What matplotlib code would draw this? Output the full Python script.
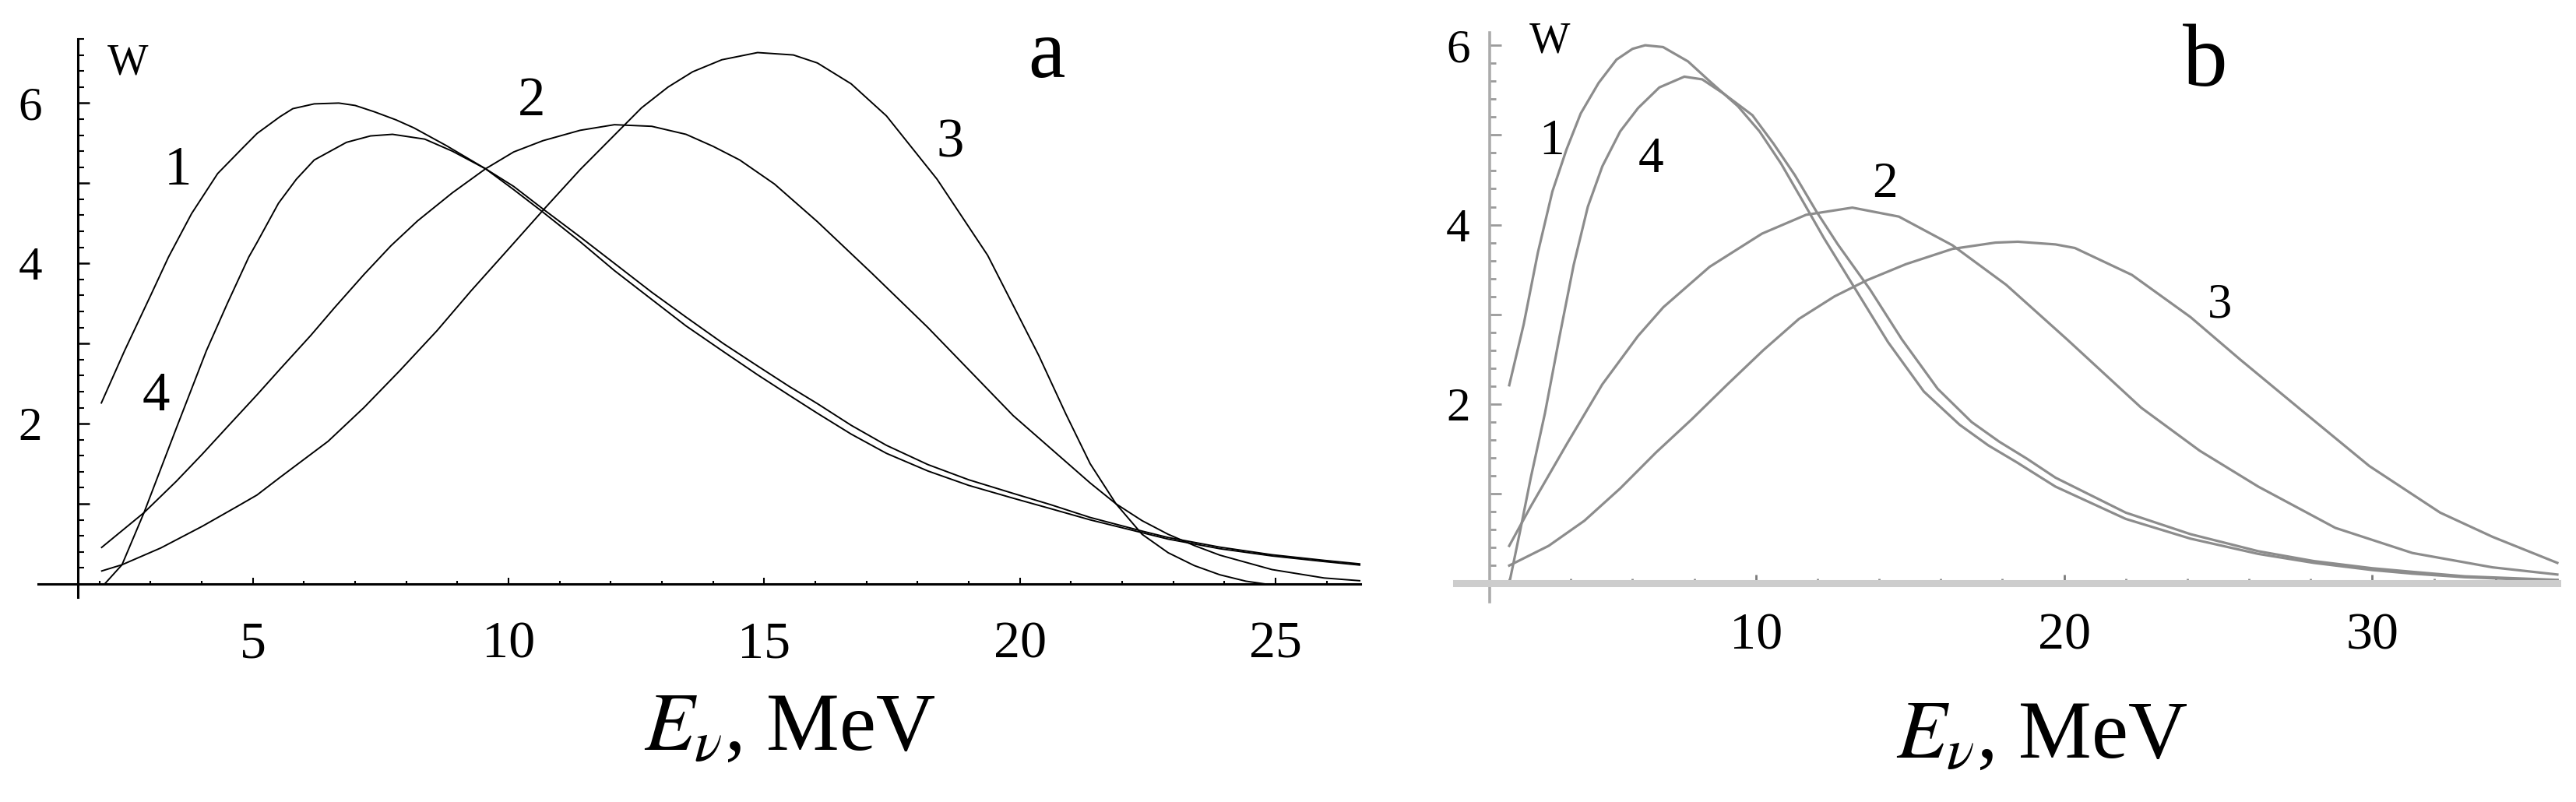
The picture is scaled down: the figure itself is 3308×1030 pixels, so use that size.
import matplotlib
matplotlib.use("Agg")
import matplotlib.pyplot as plt
from matplotlib.ticker import FixedLocator, FuncFormatter
import numpy as np

plt.rcParams['font.family'] = ['Liberation Serif', 'DejaVu Serif']
plt.rcParams['mathtext.fontset'] = 'stix'

# ---------------- data: panel a ----------------
E1a = [2.03, 2.49, 3.0, 3.35, 3.8, 4.31, 4.8, 5.08, 5.53, 5.78, 6.2, 6.68, 7.0, 7.38, 7.8, 8.15,
       8.78, 9.55, 10.1, 10.67, 11.4, 12.07, 12.8, 13.47, 14.2, 14.87, 15.5, 16.04, 16.7, 17.39,
       18.2, 19.0, 19.87, 20.6, 21.375, 22.39, 22.9, 23.91, 24.93, 25.95, 26.66]
W1a = [2.25, 2.91, 3.6, 4.08, 4.62, 5.12, 5.44, 5.62, 5.83, 5.93, 5.99, 6.0, 5.97, 5.89, 5.79, 5.69,
       5.47, 5.18, 4.92, 4.64, 4.27, 3.91, 3.55, 3.22, 2.9, 2.61, 2.35, 2.13, 1.87, 1.63,
       1.41, 1.23, 1.07, 0.94, 0.80, 0.64, 0.56, 0.44, 0.35, 0.28, 0.235]

E4a = [2.1, 2.44, 2.87, 3.5, 4.09, 4.5, 4.92, 5.08, 5.5, 5.85, 6.2, 6.83, 7.3, 7.73, 8.36, 8.9,
       9.55, 10.1, 10.67, 11.4, 12.07, 12.8, 13.47, 14.2, 14.87, 15.5, 16.04, 16.7, 17.39, 18.2,
       19.0, 19.87, 20.6, 21.375, 22.39, 22.9, 23.91, 24.93, 25.95, 26.66]
W4a = [0.0, 0.24, 0.89, 1.94, 2.91, 3.5, 4.08, 4.26, 4.75, 5.05, 5.29, 5.51, 5.59, 5.61, 5.55, 5.40,
       5.18, 4.96, 4.68, 4.33, 4.0, 3.64, 3.33, 3.0, 2.72, 2.46, 2.25, 1.98, 1.73, 1.49,
       1.30, 1.13, 0.99, 0.83, 0.66, 0.58, 0.46, 0.365, 0.295, 0.25]

E2a = [2.03, 2.87, 3.5, 4.01, 4.5, 5.08, 5.53, 6.13, 6.6, 7.17, 7.7, 8.22, 8.9, 9.55, 10.1, 10.67,
       11.4, 12.07, 12.8, 13.47, 14.0, 14.52, 15.2, 16.04, 17.1, 18.2, 19.87, 21.375, 21.88, 22.39,
       22.9, 23.41, 23.91, 24.93, 25.95, 26.66]
W2a = [0.45, 0.89, 1.28, 1.62, 1.96, 2.36, 2.68, 3.10, 3.45, 3.86, 4.22, 4.53, 4.88, 5.18, 5.39, 5.53,
       5.66, 5.73, 5.71, 5.61, 5.46, 5.29, 4.99, 4.52, 3.88, 3.2, 2.1, 1.26, 1.0, 0.79,
       0.62, 0.48, 0.36, 0.18, 0.075, 0.04]

E3a = [2.03, 2.44, 3.2, 4.01, 4.7, 5.08, 5.53, 6.47, 7.17, 7.87, 8.6, 9.27, 10.0, 10.67, 11.4, 12.07,
       12.6, 13.12, 13.6, 14.17, 14.87, 15.57, 16.04, 16.7, 17.39, 18.38, 19.37, 20.37, 20.9, 21.375,
       21.88, 22.39, 22.9, 23.41, 23.91, 24.42, 24.8]
W3a = [0.16, 0.24, 0.45, 0.72, 0.97, 1.11, 1.33, 1.78, 2.2, 2.66, 3.16, 3.66, 4.18, 4.66, 5.17, 5.6,
       5.94, 6.2, 6.39, 6.54, 6.63, 6.6, 6.5, 6.24, 5.84, 5.05, 4.1, 2.85, 2.12, 1.5,
       1.0, 0.62, 0.39, 0.23, 0.115, 0.035, 0.0]

# ---------------- data: panel b ----------------
E1b = [2.0, 2.47, 2.93, 3.4, 3.86, 4.32, 4.9, 5.48, 6.0, 6.41, 6.99, 7.8, 8.5, 9.42, 10.12, 10.82,
       11.51, 12.21, 13.25, 14.29, 15.45, 16.61, 17.54, 18.47, 19.72, 22.0, 24.1, 26.3, 28.1, 30.0,
       31.3, 33.0, 36.0]
W1b = [2.21, 2.89, 3.69, 4.37, 4.84, 5.24, 5.58, 5.84, 5.96, 6.0, 5.98, 5.82, 5.6, 5.32, 5.04, 4.68,
       4.27, 3.85, 3.27, 2.69, 2.14, 1.77, 1.54, 1.35, 1.08, 0.72, 0.5, 0.33, 0.23, 0.15,
       0.11, 0.07, 0.03]

E4b = [2.0, 2.35, 2.7, 3.16, 3.63, 4.09, 4.55, 5.02, 5.6, 6.18, 6.87, 7.68, 8.26, 8.96, 9.89, 10.58,
       11.27, 11.96, 12.66, 13.7, 14.74, 15.9, 17.0, 17.9, 18.8, 19.72, 22.0, 24.1, 26.3, 28.1,
       30.0, 31.3, 33.0, 36.0]
W4b = [0.0, 0.58, 1.18, 1.9, 2.75, 3.55, 4.2, 4.65, 5.04, 5.3, 5.53, 5.65, 5.62, 5.46, 5.22, 4.9,
       4.55, 4.15, 3.78, 3.28, 2.72, 2.17, 1.8, 1.58, 1.39, 1.18, 0.79, 0.55, 0.36, 0.25,
       0.17, 0.13, 0.08, 0.04]

E2b = [2.0, 2.7, 3.86, 5.02, 6.18, 7.0, 8.5, 10.2, 11.63, 13.13, 14.64, 16.38, 18.12, 20.1, 22.5,
       24.4, 26.3, 28.8, 31.3, 33.9, 36.0]
W2b = [0.42, 0.86, 1.55, 2.22, 2.76, 3.08, 3.53, 3.9, 4.11, 4.19, 4.09, 3.77, 3.33, 2.72, 1.96,
       1.48, 1.08, 0.62, 0.34, 0.18, 0.1]

E3b = [2.0, 3.28, 4.44, 5.6, 6.76, 7.92, 9.08, 10.24, 11.4, 12.55, 13.6, 14.87, 16.38, 17.77, 18.5,
       19.72, 20.35, 22.2, 24.1, 25.7, 27.6, 29.9, 32.2, 33.9, 36.0]
W3b = [0.2, 0.42, 0.70, 1.06, 1.46, 1.83, 2.22, 2.6, 2.95, 3.2, 3.38, 3.56, 3.73, 3.8, 3.81,
       3.78, 3.74, 3.44, 2.97, 2.5, 1.96, 1.31, 0.79, 0.52, 0.23]

xticks_a = [5, 10, 15, 20, 25]
xticks_b = [10, 20, 30]
yticks = [2, 4, 6]

# ---------------- figure ----------------
W_PX, H_PX = 3308, 1030
fig = plt.figure(figsize=(W_PX / 100, H_PX / 100), dpi=100)


def frac(x0, x1, ytop, ybot):
    return [x0 / W_PX, 1 - ybot / H_PX, (x1 - x0) / W_PX, (ybot - ytop) / H_PX]


axA = fig.add_axes(frac(49, 1747, 50, 767))
axB = fig.add_axes(frac(1870, 3284, 42, 773))

for ax in (axA, axB):
    ax.patch.set_alpha(0)
    ax.spines['top'].set_visible(False)
    ax.spines['right'].set_visible(False)

yfmt = FuncFormatter(lambda v, p: ('%d' % round(v)) if round(v) in yticks else '')

# panel a
axA.set_xlim(0.8, 26.66)
axA.set_ylim(-0.165, 6.8)
axA.spines['left'].set_position(('data', 1.573))
axA.spines['bottom'].set_position(('data', 0))
for s in ('left', 'bottom'):
    axA.spines[s].set_linewidth(2.2)
    axA.spines[s].set_color('black')
axA.xaxis.set_major_locator(FixedLocator(xticks_a))
axA.xaxis.set_minor_locator(FixedLocator(list(range(2, 27))))
axA.yaxis.set_major_locator(FixedLocator([1, 2, 3, 4, 5, 6]))
axA.yaxis.set_minor_locator(FixedLocator(list(np.round(np.arange(0.2, 6.81, 0.2), 2))))
axA.yaxis.set_major_formatter(yfmt)
axA.tick_params(axis='x', which='major', direction='in', length=6, width=1.5, pad=34, labelsize=49)
axA.tick_params(axis='x', which='minor', direction='in', length=3, width=1.5)
axA.tick_params(axis='y', which='major', direction='in', length=11, width=1.8, pad=33, labelsize=44)
axA.tick_params(axis='y', which='minor', direction='in', length=6, width=1.5)

for E, Wv in ((E1a, W1a), (E4a, W4a), (E2a, W2a), (E3a, W3a)):
    axA.plot(E, Wv, color='black', lw=1.4, clip_on=False, solid_capstyle='butt')

# panel b
gcol = '#8c8c8c'
axB.set_xlim(0.28, 36.0)
axB.set_ylim(-0.205, 6.14)
axB.spines['left'].set_position(('data', 1.36))
axB.spines['bottom'].set_position(('data', 0))
axB.spines['left'].set_linewidth(2.6)
axB.spines['left'].set_color('#ababab')
axB.spines['bottom'].set_linewidth(6.5)
axB.spines['bottom'].set_color('#cdcdcd')
axB.xaxis.set_major_locator(FixedLocator(xticks_b))
axB.xaxis.set_minor_locator(FixedLocator(list(range(2, 37, 2))))
axB.yaxis.set_major_locator(FixedLocator([1, 2, 3, 4, 5, 6]))
axB.yaxis.set_minor_locator(FixedLocator(list(np.round(np.arange(0.2, 6.01, 0.2), 2))))
axB.yaxis.set_major_formatter(yfmt)
axB.tick_params(axis='x', which='major', direction='in', length=8, width=2, pad=27,
                labelsize=49, color='#7a7a7a')
axB.tick_params(axis='x', which='minor', direction='in', length=4, width=2, color='#8a8a8a')
axB.tick_params(axis='y', which='major', direction='in', length=11, width=2, pad=18,
                labelsize=44, color='#9a9a9a')
axB.tick_params(axis='y', which='minor', direction='in', length=6, width=2, color='#9a9a9a')

for E, Wv in ((E1b, W1b), (E4b, W4b), (E2b, W2b), (E3b, W3b)):
    axB.plot(E, Wv, color=gcol, lw=2.3, clip_on=False)


def ftxt(x, y, s, size, **kw):
    fig.text(x / W_PX, 1 - y / H_PX, s, fontsize=size, ha='center', va='baseline', **kw)


# panel a labels
ftxt(164, 95, 'W', 40)
ftxt(1344, 99, 'a', 77)
ftxt(228, 237, '1', 51)
ftxt(683, 148, '2', 51)
ftxt(1220, 201, '3', 51)
ftxt(200, 527, '4', 51)
ftxt(1014, 963, r'$E_\nu$, MeV', 76)

# panel b labels
ftxt(1990, 67, 'W', 40)
ftxt(2832, 110, 'b', 83)
ftxt(1993, 198, '1', 47)
ftxt(2120, 221, '4', 47)
ftxt(2420, 253, '2', 47)
ftxt(2850, 408, '3', 45)
ftxt(2622, 973, r'$E_\nu$, MeV', 76)

fig.savefig('out.png', dpi=100)
